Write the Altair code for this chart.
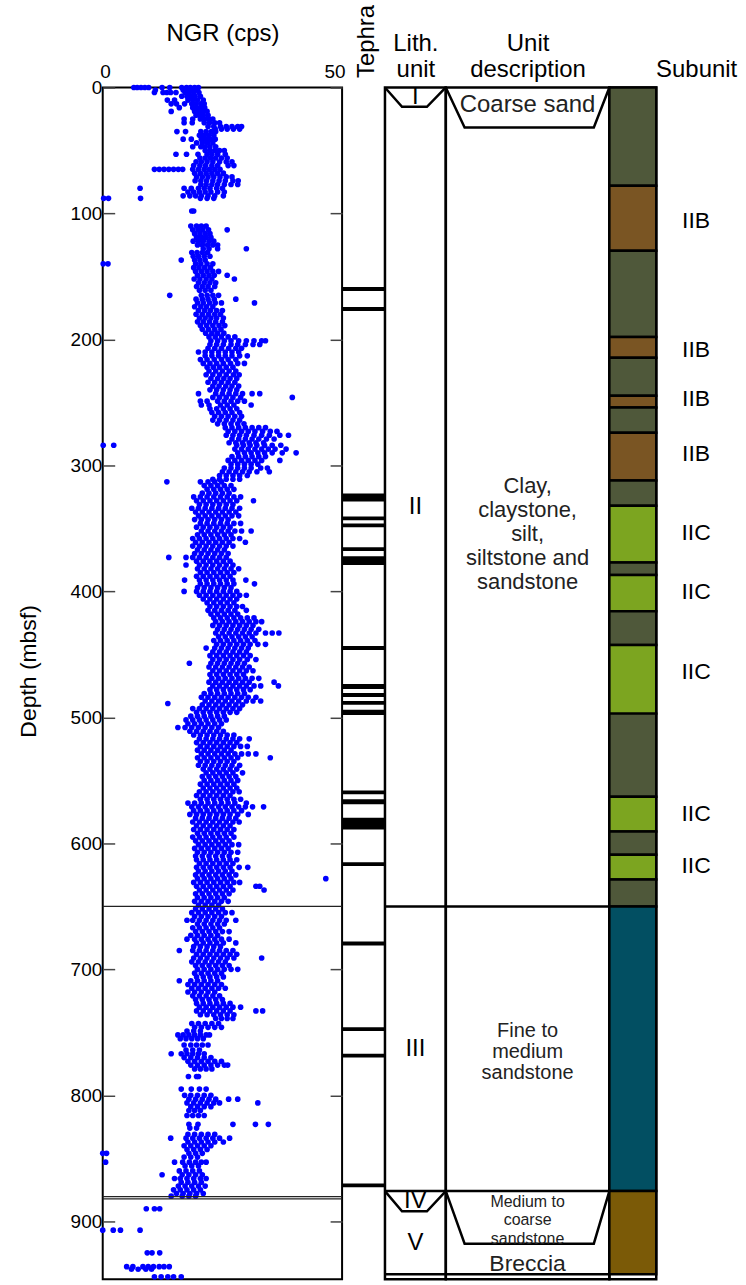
import altair as alt
import pandas as pd

FONT = "Liberation Sans"
D_MAX = 946
H = 1195

# ---------------- NGR data: (depth m, [NGR cps values read at that depth]) ----------------
NGR_ROWS = [
    (0, [6.5, 7.2, 8.0, 8.8, 9.6, 12.4, 14.0, 16.5, 17.5, 18.3, 19.2, 20.0]),
    (2, [11.0, 16.8, 17.8, 18.6, 19.5]),
    (4, [10.8, 12.6, 13.4, 14.2, 15.3, 17.2, 18.0, 19.0, 20.1]),
    (7, [16.5, 17.6, 18.4, 19.3, 20.4]),
    (10, [13.5, 15.0, 17.8, 18.8, 19.8, 21.0]),
    (13, [14.3, 15.4, 17.1, 18.6, 19.5, 20.5, 21.2]),
    (16, [16.0, 18.8, 19.6, 20.4, 21.3]),
    (19, [14.3, 19.2, 20.1, 20.9, 21.8]),
    (22, [19.5, 20.3, 21.0, 22.0]),
    (25, [17.0, 18.8, 20.4, 21.3, 22.2, 23.0]),
    (28, [17.0, 18.7, 21.2, 22.3, 23.4, 24.4]),
    (31, [22.0, 23.2, 24.6, 25.8, 27.0, 28.2, 29.0]),
    (33, [23.5, 24.8, 26.0, 27.3, 28.6]),
    (35, [15.5, 17.3, 20.5, 21.6, 22.7, 23.6]),
    (38, [20.2, 21.1, 22.1, 23.2]),
    (41, [16.8, 18.5, 20.6, 21.5, 22.5, 23.5]),
    (44, [19.6, 20.8, 21.9, 23.0]),
    (47, [18.8, 20.5, 21.4, 22.4, 23.6]),
    (50, [21.4, 22.4, 23.4, 24.4, 25.4]),
    (53, [15.3, 17.5, 19.9, 21.8, 22.8, 24.0, 25.6]),
    (56, [20.3, 21.4, 22.5, 23.6, 24.8, 26.0]),
    (59, [19.5, 20.6, 21.8, 23.0, 24.4, 25.8, 27.0]),
    (62, [19.0, 20.3, 21.5, 22.8, 24.0, 26.2, 27.4]),
    (65, [10.8, 11.8, 12.8, 13.8, 14.8, 15.8, 16.7, 18.8, 20.0, 21.2, 22.3, 23.4, 24.5]),
    (68, [19.2, 20.4, 21.6, 22.8, 24.0, 25.2]),
    (71, [19.6, 20.8, 22.0, 23.2, 24.5, 25.8, 27.0]),
    (74, [19.3, 20.5, 21.7, 23.0, 24.3, 25.6, 27.2, 28.3]),
    (77, [20.5, 21.6, 22.8, 24.0, 25.4, 26.8, 28.2]),
    (80, [7.8, 17.0, 18.5, 20.0, 21.2, 22.4, 23.8, 25.0]),
    (83, [17.8, 19.0, 20.2, 21.4, 22.6, 24.0, 25.4]),
    (86, [16.8, 18.2, 19.4, 20.6, 22.0, 23.4, 25.2]),
    (88, [0.2, 1.2, 7.9, 20.4, 21.8, 23.2]),
    (98, [18.6, 19.0]),
    (110, [18.4, 19.6, 20.6, 21.6]),
    (113, [18.8, 19.9, 20.9, 22.1, 26.0]),
    (116, [19.2, 20.3, 21.4, 22.4]),
    (119, [19.6, 20.6, 21.6, 22.6]),
    (122, [18.9, 20.0, 21.0, 22.2, 23.2]),
    (125, [19.8, 20.8, 21.9, 23.0, 24.0]),
    (128, [21.0, 22.2, 24.0, 30.0]),
    (131, [18.6, 19.7, 20.8, 21.9]),
    (134, [18.9, 20.0, 21.2, 22.4]),
    (137, [16.4, 19.2, 20.3, 21.4]),
    (140, [0.1, 1.1, 19.4, 20.5, 21.8, 23.0]),
    (143, [19.0, 20.1, 21.3, 22.5]),
    (146, [19.4, 20.6, 21.8, 23.0, 24.2]),
    (149, [19.8, 21.0, 22.2, 23.3, 26.0]),
    (152, [19.1, 20.3, 21.6, 22.8, 27.5]),
    (155, [20.0, 21.2, 22.4, 23.6]),
    (158, [19.6, 20.8, 22.0, 23.4]),
    (161, [20.2, 21.4, 22.6]),
    (165, [14.0, 20.6, 21.8, 23.0, 24.2]),
    (168, [19.5, 20.8, 22.0, 23.3, 27.8]),
    (171, [19.8, 21.0, 22.3, 23.5, 24.8, 31.7]),
    (174, [19.2, 20.5, 21.7, 23.0]),
    (177, [20.0, 21.3, 22.5, 23.8, 25.0]),
    (180, [19.5, 20.8, 22.1, 23.4, 24.6]),
    (183, [20.2, 21.4, 22.6, 23.8, 25.2]),
    (186, [19.8, 21.0, 22.3, 23.6, 25.0]),
    (189, [20.4, 21.7, 23.0, 24.3, 25.5]),
    (192, [20.8, 22.1, 23.4, 24.7]),
    (195, [21.5, 22.8, 24.0, 25.3]),
    (198, [22.2, 23.5, 24.8, 26.2, 27.6]),
    (201, [22.6, 24.0, 25.4, 26.8, 28.4, 30.0, 31.6, 33.2, 34.0]),
    (204, [22.4, 23.8, 25.2, 26.8, 28.2, 29.8, 31.4, 32.8]),
    (207, [22.0, 23.4, 24.8, 26.3, 27.8, 29.0]),
    (210, [20.0, 21.4, 22.8, 24.2, 25.6, 27.0, 28.4]),
    (213, [21.4, 22.8, 24.2, 25.6, 27.0, 28.6, 30.2]),
    (216, [20.4, 21.8, 23.3, 24.8, 26.2, 27.8]),
    (219, [21.0, 22.4, 23.8, 25.2, 26.7, 28.2, 29.6]),
    (222, [21.8, 23.1, 24.4, 25.8, 27.2]),
    (225, [22.2, 23.6, 25.0, 26.4, 27.8]),
    (228, [21.6, 23.0, 24.4, 25.8, 27.3, 28.5]),
    (231, [22.6, 24.0, 25.3, 26.6, 28.0]),
    (234, [22.0, 23.4, 24.8, 26.2, 27.6]),
    (237, [23.0, 24.3, 25.7, 27.0, 28.4]),
    (240, [22.4, 23.8, 25.2, 26.6, 28.0]),
    (243, [20.0, 23.6, 25.0, 26.4, 27.8, 29.2, 31.2, 32.8]),
    (246, [23.0, 24.4, 25.8, 27.2, 28.8, 39.6]),
    (249, [20.4, 21.8, 24.0, 25.4, 26.8, 28.2, 29.6]),
    (252, [20.6, 22.2, 24.6, 26.0, 27.4, 31.0]),
    (255, [22.4, 23.8, 25.2, 26.6, 28.0]),
    (258, [22.8, 24.2, 25.6, 27.0, 28.6]),
    (261, [23.4, 24.8, 26.2, 27.6, 29.0]),
    (264, [23.0, 24.4, 25.8, 27.2, 28.6]),
    (267, [24.0, 25.4, 26.8, 28.2, 29.5]),
    (270, [25.6, 27.0, 28.4, 29.8, 31.2, 32.6, 34.0]),
    (273, [26.2, 27.6, 29.0, 30.4, 31.8, 33.4, 35.0, 36.4]),
    (276, [25.8, 27.2, 28.6, 30.0, 31.6, 33.2, 34.8, 37.0, 38.8]),
    (279, [27.0, 28.4, 29.8, 31.2, 32.6, 34.2, 35.8]),
    (282, [26.4, 27.8, 29.2, 30.6, 32.0, 33.6]),
    (284, [0.1, 2.3, 28.0, 29.4, 30.8, 32.2, 33.8, 35.4, 37.2]),
    (287, [27.6, 29.0, 30.4, 31.8, 33.2, 34.6, 36.0, 38.3]),
    (290, [28.2, 29.6, 31.0, 32.4, 33.8, 35.4, 37.5, 40.4]),
    (293, [27.0, 28.4, 29.8, 31.2, 32.6, 34.0]),
    (296, [26.2, 27.6, 29.0, 30.4, 31.8, 33.2, 37.0]),
    (299, [26.8, 28.2, 29.6, 31.0, 32.4]),
    (302, [25.4, 26.8, 28.2, 29.6, 31.0, 33.0, 34.4]),
    (305, [25.0, 26.4, 27.8, 29.2, 30.6, 32.2, 34.8]),
    (308, [24.4, 25.8, 27.2, 28.6, 30.2]),
    (311, [23.0, 24.4, 25.8, 27.2, 28.6]),
    (313, [13.4, 20.4, 22.0, 23.4, 24.8]),
    (316, [21.2, 22.6, 24.0, 25.4, 26.8]),
    (319, [21.8, 23.2, 24.6, 26.0, 27.4]),
    (322, [20.8, 22.2, 23.6, 25.0, 26.4]),
    (325, [19.0, 20.4, 21.8, 23.2, 24.6, 26.0, 27.4, 28.8]),
    (328, [19.6, 21.0, 22.4, 23.8, 25.2, 26.6, 28.0, 31.5]),
    (331, [20.2, 21.6, 23.0, 24.4, 25.8, 27.2]),
    (334, [18.6, 20.0, 21.4, 22.8, 24.2, 25.6, 27.0, 28.6]),
    (337, [19.4, 20.8, 22.2, 23.6, 25.0, 26.4, 27.8]),
    (340, [20.0, 21.4, 22.8, 24.2, 25.6, 27.0, 28.4]),
    (343, [19.2, 20.6, 22.0, 23.4, 24.8, 26.2]),
    (346, [20.4, 21.8, 23.2, 24.6, 26.0, 27.4, 28.8]),
    (349, [19.6, 21.0, 22.4, 23.8, 25.2, 26.6]),
    (352, [20.6, 22.0, 23.4, 24.8, 26.2, 27.6, 29.0, 31.0]),
    (355, [19.8, 21.2, 22.6, 24.0, 25.4, 26.8]),
    (358, [18.8, 20.2, 21.6, 23.0, 24.4, 25.8, 27.2, 28.6]),
    (361, [19.4, 20.8, 22.2, 23.6, 25.0, 26.4, 29.8]),
    (364, [18.8, 20.2, 21.6, 23.0, 24.4, 25.8, 27.2]),
    (367, [19.8, 21.2, 22.6, 24.0, 25.4]),
    (370, [19.2, 20.6, 22.0, 23.4, 24.8, 26.2]),
    (373, [13.8, 17.4, 18.8, 20.2, 21.6, 23.0, 24.4, 25.8]),
    (376, [19.6, 21.0, 22.4, 23.8, 25.2, 26.6]),
    (379, [17.4, 20.2, 21.6, 23.0, 24.4, 25.8, 27.2]),
    (382, [19.8, 21.2, 22.6, 24.0, 25.4, 26.8, 28.4]),
    (385, [20.4, 21.8, 23.2, 24.6, 26.0, 27.4]),
    (388, [19.6, 21.0, 22.4, 23.8, 25.2, 26.6]),
    (391, [17.1, 20.2, 21.6, 23.0, 24.4, 25.8, 27.2, 29.9]),
    (394, [20.4, 21.8, 23.2, 24.6, 26.0, 27.4, 31.7]),
    (397, [19.8, 21.2, 22.6, 24.0, 25.4, 26.8]),
    (400, [17.0, 19.6, 21.0, 22.4, 23.8, 25.2, 26.6, 28.0]),
    (403, [20.2, 21.6, 23.0, 24.4, 25.8, 27.2, 28.6, 30.0]),
    (406, [21.0, 22.4, 23.8, 25.2, 26.6, 28.0]),
    (409, [21.8, 23.2, 24.6, 26.0, 27.4]),
    (412, [22.4, 23.8, 25.2, 26.6, 28.0, 29.2]),
    (415, [22.0, 23.4, 24.8, 26.2, 27.6, 30.0]),
    (418, [22.6, 24.0, 25.4, 26.8, 28.2]),
    (421, [23.2, 24.6, 26.0, 27.4, 28.8, 30.2, 31.6]),
    (424, [23.6, 25.0, 26.4, 27.8, 29.2, 30.6, 32.0, 33.2]),
    (427, [23.0, 24.4, 25.8, 27.2, 28.6, 30.0, 31.4]),
    (430, [24.0, 25.4, 26.8, 28.2, 29.6, 31.0, 32.6]),
    (433, [23.6, 25.0, 26.4, 27.8, 29.2, 30.6, 32.0, 34.0, 35.4, 36.8]),
    (436, [24.2, 25.6, 27.0, 28.4, 29.8, 31.2]),
    (439, [23.2, 24.6, 26.0, 27.4, 28.8, 30.2, 31.8]),
    (442, [23.8, 25.2, 26.6, 28.0, 29.4, 30.8, 32.4, 34.0]),
    (445, [21.6, 23.4, 24.8, 26.2, 27.6, 29.0, 30.4]),
    (448, [23.0, 24.4, 25.8, 27.2, 28.6, 30.0]),
    (451, [22.4, 23.8, 25.2, 26.6, 28.0, 29.4, 30.8]),
    (454, [23.0, 24.4, 25.8, 27.2, 28.6, 30.2, 32.0]),
    (457, [18.1, 22.6, 24.0, 25.4, 26.8, 28.2, 29.6]),
    (460, [22.2, 23.6, 25.0, 26.4, 27.8, 29.2, 30.6]),
    (463, [23.0, 24.4, 25.8, 27.2, 28.6, 30.0, 31.4]),
    (466, [22.4, 23.8, 25.2, 26.6, 28.0, 29.4]),
    (469, [22.8, 24.2, 25.6, 27.0, 28.4, 29.8, 31.2, 32.6]),
    (472, [22.2, 23.6, 25.0, 26.4, 27.8, 29.2, 30.6, 35.8]),
    (475, [23.0, 24.4, 25.8, 27.2, 28.6, 30.0, 31.6, 33.0, 36.7]),
    (478, [22.4, 23.8, 25.2, 26.6, 28.0, 29.4, 30.8]),
    (481, [21.2, 22.6, 24.0, 25.4, 26.8, 28.2, 29.6]),
    (484, [20.6, 22.0, 23.4, 24.8, 26.2, 27.6, 29.0, 30.4, 32.0]),
    (487, [21.4, 22.8, 24.2, 25.6, 27.0, 28.4, 30.0, 31.4, 33.0]),
    (489, [13.6]),
    (490, [20.8, 22.2, 23.6, 25.0, 26.4, 27.8, 29.2]),
    (493, [18.8, 20.2, 21.6, 23.0, 24.4, 25.8, 27.2, 28.6]),
    (496, [19.6, 21.0, 22.4, 23.8, 25.2, 26.6, 28.0]),
    (499, [18.4, 19.8, 21.2, 22.6, 24.0, 25.4]),
    (502, [17.4, 18.8, 20.2, 21.6, 23.0, 24.4, 25.8]),
    (505, [17.8, 19.2, 20.6, 22.0, 23.4, 24.8]),
    (508, [15.7, 17.2, 18.6, 20.0, 21.4, 22.8, 24.2]),
    (511, [18.2, 19.6, 21.0, 22.4, 23.8, 25.2]),
    (514, [19.0, 20.4, 21.8, 23.2, 24.6, 26.0, 27.4]),
    (517, [20.2, 21.6, 23.0, 24.4, 25.8, 27.2, 28.6, 30.6]),
    (520, [19.6, 21.0, 22.4, 23.8, 25.2, 26.6, 28.0]),
    (523, [20.4, 21.8, 23.2, 24.6, 26.0, 27.4, 28.8, 30.2]),
    (526, [19.8, 21.2, 22.6, 24.0, 25.4, 26.8]),
    (529, [20.6, 22.0, 23.4, 24.8, 26.2, 27.6, 29.0, 30.4, 32.0]),
    (532, [19.8, 21.2, 22.6, 24.0, 25.4, 26.8, 28.2, 35.0]),
    (535, [20.4, 21.8, 23.2, 24.6, 26.0, 27.4]),
    (538, [20.0, 21.4, 22.8, 24.2, 25.6, 27.0, 28.6]),
    (541, [21.0, 22.4, 23.8, 25.2, 26.6, 28.0]),
    (544, [21.6, 23.0, 24.4, 25.8, 27.2, 29.2]),
    (547, [20.8, 22.2, 23.6, 25.0, 26.4, 27.8]),
    (550, [21.2, 22.6, 24.0, 25.4, 26.8, 28.2]),
    (553, [20.4, 21.8, 23.2, 24.6, 26.0, 27.4]),
    (556, [21.0, 22.4, 23.8, 25.2, 26.6, 28.0]),
    (559, [20.2, 21.6, 23.0, 24.4, 25.8, 27.2, 28.5]),
    (562, [19.6, 21.0, 22.4, 23.8, 25.2, 26.6]),
    (565, [20.4, 21.8, 23.2, 24.6, 26.0, 27.4, 28.8]),
    (568, [17.8, 19.2, 20.6, 22.0, 23.4, 24.8, 26.2, 27.6, 30.0]),
    (571, [18.6, 20.0, 21.4, 22.8, 24.2, 25.6, 27.0, 28.4, 29.8, 31.3, 33.6]),
    (574, [19.0, 20.4, 21.8, 23.2, 24.6, 26.0, 27.4, 29.0]),
    (577, [18.2, 19.6, 21.0, 22.4, 23.8, 25.2, 26.6, 28.2, 30.4]),
    (580, [19.4, 20.8, 22.2, 23.6, 25.0, 26.4, 27.8]),
    (583, [18.8, 20.2, 21.6, 23.0, 24.4, 25.8, 27.2, 28.5]),
    (586, [19.6, 21.0, 22.4, 23.8, 25.2, 26.6]),
    (589, [19.0, 20.4, 21.8, 23.2, 24.6, 26.0, 27.4]),
    (592, [19.8, 21.2, 22.6, 24.0, 25.4, 26.8]),
    (595, [18.8, 20.2, 21.6, 23.0, 24.4, 25.8, 27.4]),
    (598, [19.4, 20.8, 22.2, 23.6, 25.0, 26.4]),
    (601, [20.0, 21.4, 22.8, 24.2, 25.6, 27.0, 28.4]),
    (604, [19.2, 20.6, 22.0, 23.4, 24.8, 26.2]),
    (607, [19.8, 21.2, 22.6, 24.0, 25.4, 26.8, 28.2]),
    (610, [19.4, 20.8, 22.2, 23.6, 25.0, 26.4]),
    (613, [19.6, 21.0, 22.4, 23.8, 25.2, 26.6, 28.0]),
    (616, [20.2, 21.6, 23.0, 24.4, 25.8, 27.2]),
    (619, [19.6, 21.0, 22.4, 23.8, 25.2, 26.6, 28.5, 30.3]),
    (622, [20.0, 21.4, 22.8, 24.2, 25.6, 27.0]),
    (625, [19.4, 20.8, 22.2, 23.6, 25.0, 26.4, 27.8]),
    (628, [19.8, 21.2, 22.6, 24.0, 25.4, 26.8, 46.6]),
    (631, [19.0, 20.4, 21.8, 23.2, 24.6, 26.0, 27.4, 28.6]),
    (634, [19.6, 21.0, 22.4, 23.8, 25.2, 26.6, 32.0, 32.8]),
    (637, [20.2, 21.6, 23.0, 24.4, 25.8, 27.2, 33.7]),
    (640, [19.4, 20.8, 22.2, 23.6, 25.0, 26.4]),
    (643, [19.8, 21.2, 22.6, 24.0, 25.4]),
    (646, [19.2, 20.6, 22.0, 23.4, 24.8, 26.2]),
    (649, [20.0, 21.4, 22.8, 24.2]),
    (652, [19.4, 20.8, 22.2, 23.6, 25.0]),
    (655, [18.6, 20.0, 21.4, 22.8, 24.2, 25.6, 27.0]),
    (658, [19.2, 20.6, 22.0, 23.4, 24.8]),
    (661, [17.6, 18.8, 20.2, 21.6, 23.0, 24.4, 25.8, 27.8]),
    (664, [19.8, 21.2, 22.6, 24.0, 25.4]),
    (667, [18.8, 20.2, 21.6, 23.0, 24.4]),
    (670, [19.4, 20.8, 22.2, 23.6, 25.0, 26.4]),
    (673, [18.4, 19.8, 21.2, 22.6, 24.0]),
    (676, [17.6, 19.2, 20.6, 22.0, 23.4, 24.8, 26.4]),
    (679, [19.6, 21.0, 22.4, 23.8, 25.2, 27.8]),
    (682, [19.0, 20.4, 21.8, 23.2, 24.6]),
    (685, [16.0, 18.8, 20.2, 21.6, 23.0, 24.4, 25.8, 27.2]),
    (688, [19.6, 21.0, 22.4, 23.8, 25.2, 26.6, 28.0]),
    (691, [19.0, 20.4, 21.8, 23.2, 24.6, 26.0, 27.4, 33.2]),
    (694, [18.6, 20.0, 21.4, 22.8, 24.2, 25.6]),
    (697, [19.4, 20.8, 22.2, 23.6, 25.0, 26.4]),
    (700, [19.8, 21.2, 22.6, 24.0, 25.4, 26.8, 28.2]),
    (703, [19.2, 20.6, 22.0, 23.4, 24.8]),
    (706, [19.6, 21.0, 22.4, 23.8, 25.2]),
    (709, [16.0, 18.4, 19.8, 21.2, 22.6, 24.0]),
    (712, [17.8, 19.2, 20.6, 22.0, 23.4, 24.8]),
    (715, [18.6, 20.0, 21.4, 22.8, 24.2, 25.6]),
    (718, [17.8, 19.2, 20.6, 22.0, 23.4]),
    (721, [18.8, 20.2, 21.6, 23.0, 24.4]),
    (724, [19.4, 20.8, 22.2, 23.6, 25.0]),
    (727, [19.6, 21.0, 22.4, 23.8, 25.2, 26.6]),
    (730, [20.2, 21.6, 23.0, 24.4, 25.8, 27.2, 28.8]),
    (733, [19.6, 21.0, 22.4, 23.8, 25.2, 26.6, 32.0, 33.4]),
    (736, [20.4, 21.8, 23.2, 24.6, 26.0, 27.4]),
    (739, [23.6, 24.8, 26.0, 27.2]),
    (743, [18.6, 20.0, 21.4, 22.8, 24.2]),
    (746, [19.2, 20.6, 22.0, 23.4, 24.8]),
    (749, [17.6, 19.0, 20.4]),
    (752, [15.7, 16.8, 18.0, 19.2, 20.4, 21.6, 22.3]),
    (755, [16.2, 17.4, 18.6, 19.8, 21.0]),
    (760, [17.0, 18.4, 19.6, 20.8, 22.0]),
    (764, [17.4, 18.8, 20.2]),
    (767, [14.3, 16.4, 17.6, 18.8, 20.0, 21.2]),
    (770, [17.0, 18.4, 19.8, 21.2, 22.6]),
    (773, [17.8, 19.2, 20.6, 22.0, 23.4, 24.8]),
    (776, [18.4, 19.8, 21.2, 22.6, 24.0, 25.4, 26.1]),
    (779, [19.2, 20.4, 21.6, 22.8]),
    (785, [17.9, 19.6, 20.0]),
    (795, [16.4, 18.5, 20.2, 21.6]),
    (800, [17.1, 18.4, 19.8, 21.2, 22.6]),
    (803, [18.0, 19.4, 20.8, 22.2, 23.6, 26.3, 28.2]),
    (806, [17.6, 19.0, 20.4, 21.8, 23.2, 24.4, 32.4]),
    (809, [18.4, 19.8, 21.2, 22.6]),
    (812, [18.0, 19.2, 20.4]),
    (816, [17.6, 18.8, 20.0, 21.2]),
    (823, [18.0, 19.9, 27.2, 31.9, 34.6]),
    (826, [18.2, 19.6]),
    (831, [17.8, 19.2, 20.6, 22.0, 23.4]),
    (834, [14.2, 17.4, 18.8, 20.2, 21.6, 23.0, 24.4, 26.5]),
    (837, [17.8, 19.2, 20.6, 22.0, 23.4, 25.2]),
    (840, [17.0, 18.4, 19.8, 21.2, 22.6]),
    (843, [17.6, 19.0, 20.4, 21.8]),
    (846, [0.0, 0.8, 18.0, 19.4, 20.8]),
    (849, [17.0, 18.4, 19.8]),
    (853, [0.6, 15.0, 16.7, 18.1, 19.4, 20.6, 21.6]),
    (856, [17.2, 18.6, 20.0]),
    (860, [16.0, 17.4, 18.8, 20.2]),
    (863, [12.4, 16.6, 18.0, 19.4, 20.8]),
    (866, [15.0, 16.2, 17.6, 19.0, 20.4, 21.6]),
    (869, [16.4, 17.8, 19.2, 20.6]),
    (872, [15.8, 17.2, 18.6, 20.0, 21.4]),
    (875, [14.8, 16.2, 17.6, 19.0, 20.4]),
    (878, [15.4, 16.8, 18.2, 19.6, 21.0]),
    (880, [14.3, 16.6, 18.0, 19.4]),
    (890, [9.1, 10.8, 11.9]),
    (907, [0.0, 2.2, 3.7, 7.8]),
    (925, [9.3, 10.3, 11.9]),
    (936, [5.0, 6.3, 8.4, 9.5, 10.6, 11.8, 12.8, 13.9]),
    (938, [6.0, 7.4, 9.0, 10.2]),
    (944, [10.8, 12.2, 13.6, 14.8, 16.4]),
]
NGR_LINES = [650, 880.4, 882.2]
DEPTH_TICKS = [0, 100, 200, 300, 400, 500, 600, 700, 800, 900]
NGR_TICKS = [0, 50]

# ---------------- Tephra beds (m) ----------------
TEPHRA_TOP = [158.4, 174.2, 322.2, 340.5, 346.0, 365.0, 372.0, 443.4, 473.5, 480.6,
              487.0, 494.0, 558.0, 565.0, 579.6, 615.0, 677.8, 746.0, 767.0, 870.0]
TEPHRA_BOT = [161.6, 177.4, 328.6, 343.6, 349.0, 368.0, 379.0, 446.5, 477.4, 483.8,
              490.0, 498.0, 561.0, 569.0, 589.0, 618.0, 681.0, 749.0, 770.0, 873.0]

# ---------------- Lithologic units ----------------
LITH_UNITS = ["I", "II", "III", "IV", "V"]
LITH_TOP = [0, 15.3, 650, 876, 892]
LITH_BOT = [15.3, 650, 876, 892, 942]
LITH_LINES = [650, 876, 942]
LITH_WEDGE_TOP = [0, 876]
LITH_WEDGE_BOT = [15.3, 892]
DESC_WEDGE_TOP = [0, 876]
DESC_WEDGE_BOT = [31.7, 917.7]

DESC_MAIN = ["Coarse sand", "Clay,\nclaystone,\nsilt,\nsiltstone and\nsandstone", "Breccia"]
DESC_MAIN_DEPTH = [14.3, 316.7, 933.5]
DESC_MAIN_SIZE = [24, 22, 23]
DESC_III = ["Fine to\nmedium\nsandstone"]
DESC_III_DEPTH = [749.0]
DESC_IV = ["Medium to\ncoarse\nsandstone"]
DESC_IV_DEPTH = [884.4]

# ---------------- Subunits ----------------
SUB_TOP = [0, 78, 129.6, 198, 214.6, 244.6, 254, 274, 312, 332, 377, 387, 415.7, 442.6,
           497, 563, 590.6, 609, 628.7, 650, 876]
SUB_BOT = [78, 129.6, 198, 214.6, 244.6, 254, 274, 312, 332, 377, 387, 415.7, 442.6, 497,
           563, 590.6, 609, 628.7, 650, 876, 942]
SUB_TYPE = ["IIA", "IIB", "IIA", "IIB", "IIA", "IIB", "IIA", "IIB", "IIA", "IIC", "IIA",
            "IIC", "IIA", "IIC", "IIA", "IIC", "IIA", "IIC", "IIA", "III", "IV-V"]
SUB_KINDS = ["IIA", "IIB", "IIC", "III", "IV-V"]
SUB_COLORS = ["#4f583a", "#7a5523", "#7ca520", "#024f62", "#7b5a07"]
SUB_LABELS = ["IIB", "IIB", "IIB", "IIB", "IIC", "IIC", "IIC", "IIC", "IIC"]
SUB_LABEL_DEPTH = [106, 208, 247, 291, 354, 400.6, 464, 577, 617.6]

# ---------------- tables ----------------
ngr_df = pd.DataFrame([{"depth": d, "ngr": v} for d, vals in NGR_ROWS for v in vals])
tephra_df = pd.DataFrame({"top": TEPHRA_TOP, "bot": TEPHRA_BOT})
lith_df = pd.DataFrame({"unit": LITH_UNITS, "top": LITH_TOP, "bot": LITH_BOT})
lith_df["mid"] = (lith_df["top"] + lith_df["bot"]) / 2
sub_df = pd.DataFrame({"top": SUB_TOP, "bot": SUB_BOT, "kind": SUB_TYPE})
sub_lab_df = pd.DataFrame({"label": SUB_LABELS, "depth": SUB_LABEL_DEPTH})


def wedge_df(tops, bots, left_in, right_in):
    rows = []
    for i, (t, b) in enumerate(zip(tops, bots)):
        for k, (x, y) in enumerate([(0, t), (left_in, b), (right_in, b), (1, t)]):
            rows.append({"shape": i, "k": k, "x": x, "depth": y})
    return pd.DataFrame(rows)


lith_wedges = wedge_df(LITH_WEDGE_TOP, LITH_WEDGE_BOT, 0.28, 0.69)
desc_wedges = wedge_df(DESC_WEDGE_TOP, DESC_WEDGE_BOT, 0.115, 0.905)

ys = alt.Scale(domain=[0, D_MAX], reverse=True, nice=False, zero=False)
ux = alt.Scale(domain=[0, 1], nice=False, zero=False)
FRAME = alt.ViewBackground(stroke="black", strokeWidth=2.5)
NOFRAME = alt.ViewBackground(stroke="transparent")


def header_axis(title, title_y, **kw):
    return alt.Axis(orient="top", title=title, labels=False, ticks=False, domain=False,
                    grid=False, titleFontSize=24, titleFontWeight="normal",
                    titleColor="black", titleY=title_y, titleBaseline="alphabetic",
                    titleLineHeight=26, **kw)


# ---------------- NGR panel ----------------
pts = alt.Chart(ngr_df).mark_circle(size=32, color="#0000ff", opacity=1).encode(
    x=alt.X("ngr:Q", scale=alt.Scale(domain=[0, 50], nice=False, zero=False),
            axis=alt.Axis(orient="top", values=NGR_TICKS, ticks=False, tickSize=0, domain=False,
                          grid=False, labelFlush=True, labelFlushOffset=3, labelFontSize=19,
                          labelPadding=6, labelColor="black", title="NGR (cps)",
                          titleFontSize=24, titleFontWeight="normal", titleColor="black",
                          titleY=-47, titleBaseline="alphabetic")),
    y=alt.Y("depth:Q", scale=ys,
            axis=alt.Axis(orient="left", values=DEPTH_TICKS, offset=-12, tickSize=12,
                          tickColor="#444444", tickWidth=1.5, domain=False, grid=False,
                          labelFontSize=19, labelPadding=1, labelColor="black",
                          title="Depth (mbsf)", titleFontSize=23, titleFontWeight="normal",
                          titleColor="black", titlePadding=30, titleY=585)),
)
ngr_rules = alt.Chart(pd.DataFrame({"depth": NGR_LINES})).mark_rule(
    color="#222222", strokeWidth=1.2).encode(
    y=alt.Y("depth:Q", scale=ys,
            axis=alt.Axis(orient="right", values=DEPTH_TICKS, offset=-12, tickSize=12,
                          tickColor="#444444", tickWidth=1.5, domain=False, grid=False,
                          labels=False, title=None)),
)
ngr = alt.layer(pts, ngr_rules).resolve_axis(y="independent").properties(
    width=240, height=H, view=alt.ViewBackground(stroke="black", strokeWidth=2))

# ---------------- Tephra panel ----------------
teph = alt.Chart(tephra_df).mark_rect(color="black").encode(
    x=alt.XDatum(0, scale=ux, axis=alt.Axis(orient="top", labels=False, ticks=False,
                                            domain=False, grid=False, title="Tephra",
                                            titleAngle=270, titleAlign="left",
                                            titleBaseline="middle", titleX=25, titleY=-10,
                                            titleFontSize=24, titleFontWeight="normal",
                                            titleColor="black")),
    x2=alt.X2Datum(1),
    y=alt.Y("top:Q", scale=ys, axis=None),
    y2="bot:Q",
).properties(width=43, height=H, view=NOFRAME)

# ---------------- Lith. unit panel ----------------
lith_w = alt.Chart(lith_wedges).mark_line(color="black", strokeWidth=2.5).encode(
    x=alt.X("x:Q", scale=ux, axis=header_axis(["Lith.", "unit"], -37)),
    y=alt.Y("depth:Q", scale=ys, axis=None),
    order="k:O", detail="shape:N",
)
lith_r = alt.Chart(pd.DataFrame({"depth": LITH_LINES})).mark_rule(
    color="black", strokeWidth=2.5).encode(y=alt.Y("depth:Q", scale=ys, axis=None))
lith_t = alt.Chart(lith_df).mark_text(fontSize=24, color="black", font=FONT).encode(
    y=alt.Y("mid:Q", scale=ys, axis=None), text="unit:N")
lith = alt.layer(lith_w, lith_r, lith_t).properties(width=61, height=H, view=FRAME)

# ---------------- Unit description panel ----------------
desc_w = alt.Chart(desc_wedges).mark_line(color="black", strokeWidth=2.5).encode(
    x=alt.X("x:Q", scale=ux, axis=header_axis(["Unit", "description"], -37)),
    y=alt.Y("depth:Q", scale=ys, axis=None),
    order="k:O", detail="shape:N",
)
desc_r = alt.Chart(pd.DataFrame({"depth": LITH_LINES})).mark_rule(
    color="black", strokeWidth=2.5).encode(y=alt.Y("depth:Q", scale=ys, axis=None))
desc_t1 = alt.Chart(pd.DataFrame({"t": DESC_MAIN, "depth": DESC_MAIN_DEPTH,
                                  "fs": DESC_MAIN_SIZE})).mark_text(
    lineHeight=24, color="#222222", font=FONT, lineBreak="\n").encode(
    y=alt.Y("depth:Q", scale=ys, axis=None), text="t:N",
    size=alt.Size("fs:Q", scale=None, legend=None))
desc_t2 = alt.Chart(pd.DataFrame({"t": DESC_III, "depth": DESC_III_DEPTH})).mark_text(
    fontSize=20, lineHeight=21, color="#222222", font=FONT, lineBreak="\n").encode(
    y=alt.Y("depth:Q", scale=ys, axis=None), text="t:N")
desc_t3 = alt.Chart(pd.DataFrame({"t": DESC_IV, "depth": DESC_IV_DEPTH})).mark_text(
    fontSize=16, lineHeight=18.5, color="#222222", font=FONT, lineBreak="\n").encode(
    y=alt.Y("depth:Q", scale=ys, axis=None), text="t:N")
desc = alt.layer(desc_w, desc_r, desc_t1, desc_t2, desc_t3).properties(
    width=164, height=H, view=FRAME)

# ---------------- Subunit colour column ----------------
sub = alt.Chart(sub_df).mark_rect(stroke="black", strokeWidth=2.5).encode(
    x=alt.XDatum(0, scale=ux, axis=None),
    x2=alt.X2Datum(1),
    y=alt.Y("top:Q", scale=ys, axis=None),
    y2="bot:Q",
    fill=alt.Fill("kind:N", scale=alt.Scale(domain=SUB_KINDS, range=SUB_COLORS), legend=None),
).properties(width=47, height=H, view=FRAME)

# ---------------- Subunit labels ----------------
sub_lab = alt.Chart(sub_lab_df).mark_text(fontSize=23, color="black", font=FONT).encode(
    x=alt.XDatum(0.5, scale=ux, axis=header_axis("Subunit", -11)),
    y=alt.Y("depth:Q", scale=ys, axis=None),
    text="label:N",
).properties(width=80, height=H, view=NOFRAME)

chart = alt.hconcat(ngr, teph, lith, desc, sub, sub_lab, spacing=0, bounds="flush").properties(
    padding={"left": 16, "top": 2, "right": 8, "bottom": 0},
    background="white",
).configure_axis(labelFont=FONT, titleFont=FONT).configure_text(font=FONT)

chart.save("out.html", embed_options={"renderer": "svg", "actions": False})
